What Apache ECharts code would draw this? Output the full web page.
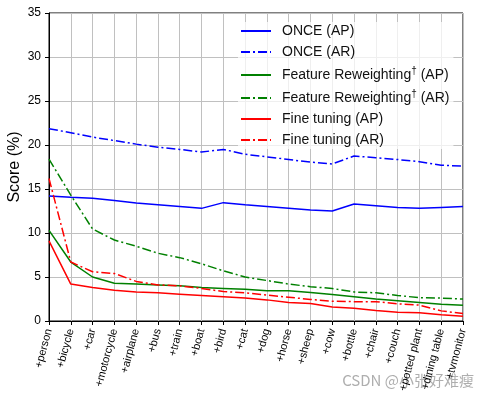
<!DOCTYPE html>
<html>
<head>
<meta charset="utf-8">
<script src="https://cdn.jsdelivr.net/npm/echarts@6/dist/echarts.min.js"></script>
<style>
  html, body { margin: 0; padding: 0; background: #fff; }
  #chart { width: 480px; height: 398px; }
</style>
</head>
<body>
<div id="chart"></div>
<script>
const categories = ['+person', '+bicycle', '+car', '+motorcycle', '+airplane', '+bus', '+train', '+boat', '+bird', '+cat',
  '+dog', '+horse', '+sheep', '+cow', '+bottle', '+chair', '+couch', '+potted plant', '+dining table', '+tvmonitor']

const onceAP = [14.2, 14.05, 13.95, 13.7, 13.4, 13.2, 13.0, 12.8, 13.45, 13.2, 13.0, 12.8, 12.6, 12.5, 13.3, 13.1, 12.9, 12.8, 12.9, 13.0]
const onceAR = [21.85, 21.4, 20.9, 20.5, 20.1, 19.75, 19.5, 19.2, 19.5, 18.95, 18.65, 18.35, 18.05, 17.85, 18.75, 18.55, 18.35, 18.1, 17.7, 17.6]
const featAP = [10.3, 6.7, 5.0, 4.3, 4.2, 4.1, 4.0, 3.8, 3.7, 3.6, 3.45, 3.45, 3.25, 3.0, 2.75, 2.5, 2.3, 2.1, 1.9, 1.8]
const featAR = [18.4, 14.3, 10.45, 9.2, 8.5, 7.7, 7.2, 6.5, 5.7, 5.0, 4.6, 4.2, 3.9, 3.7, 3.3, 3.2, 2.9, 2.65, 2.6, 2.5]
const fineAP = [9.1, 4.2, 3.8, 3.5, 3.3, 3.2, 3.05, 2.9, 2.75, 2.6, 2.4, 2.1, 2.0, 1.6, 1.45, 1.2, 1.0, 0.95, 0.7, 0.55]
const fineAR = [16.2, 6.7, 5.6, 5.4, 4.5, 4.1, 4.0, 3.7, 3.35, 3.2, 2.95, 2.7, 2.45, 2.25, 2.2, 2.2, 1.95, 1.8, 1.15, 0.85]

const fontFamily = '"Liberation Sans", Arial, sans-serif'
const dashDot = [9, 3, 2, 3]

function makeSeries(name, data, color, dashed) {
  return {
    name,
    type: 'line',
    data,
    symbol: 'none',
    showSymbol: false,
    animation: false,
    lineStyle: { color, width: 1.5, type: dashed ? dashDot : 'solid' },
    itemStyle: { color }
  }
}

const myChart = echarts.init(document.getElementById('chart'))
const option = {
  animation: false,
  textStyle: { fontFamily },
  grid: {
    left: 49, right: 17, top: 13, bottom: 77,
    outerBoundsMode: 'none',
    containLabel: false,
    show: true, borderColor: '#000', borderWidth: 1, backgroundColor: 'transparent'
  },
  legend: {
    orient: 'vertical',
    left: 238,
    top: 22,
    itemWidth: 30,
    itemHeight: 14,
    itemGap: 7,
    backgroundColor: 'rgba(255,255,255,0.75)',
    padding: [2, 4, 2, 2],
    itemStyle: { opacity: 0 },
    textStyle: {
      fontSize: 14, color: '#111', fontFamily, padding: [0, 0, 0, 6],
      rich: {
        sup: { fontSize: 10, verticalAlign: 'top', padding: [0, 0, 8, 0], color: '#111', fontFamily }
      }
    },
    formatter: function(name) {
      if (name.indexOf('Feature') === 0) {
        return name.replace('Reweighting', 'Reweighting{sup|†}')
      }
      return name
    }
  },
  xAxis: {
    type: 'category',
    data: categories,
    boundaryGap: false,
    axisLine: { lineStyle: { color: '#000', width: 1 } },
    axisTick: { show: true, alignWithLabel: true, length: 4, lineStyle: { color: '#000' } },
    axisLabel: { rotate: 75, fontSize: 11, color: '#000', margin: 8, interval: 0, fontFamily },
    splitLine: { show: true, lineStyle: { color: '#c0c0c0', width: 1 } }
  },
  yAxis: {
    type: 'value',
    min: 0, max: 35, interval: 5,
    name: 'Score (%)',
    nameLocation: 'middle',
    nameGap: 26,
    nameMoveOverlap: false,
    nameTextStyle: { fontSize: 16, color: '#000', fontFamily },
    axisLine: { show: true, lineStyle: { color: '#000', width: 1 } },
    axisTick: { show: true, length: 4, lineStyle: { color: '#000' } },
    axisLabel: { fontSize: 12, color: '#000', margin: 8, fontFamily },
    splitLine: { show: true, lineStyle: { color: '#c0c0c0', width: 1 } }
  },
  series: [
    makeSeries('ONCE (AP)', onceAP, '#0000ff', false),
    makeSeries('ONCE (AR)', onceAR, '#0000ff', true),
    makeSeries('Feature Reweighting (AP)', featAP, '#008000', false),
    makeSeries('Feature Reweighting (AR)', featAR, '#008000', true),
    makeSeries('Fine tuning (AP)', fineAP, '#ff0000', false),
    makeSeries('Fine tuning (AR)', fineAR, '#ff0000', true)
  ],
  graphic: [{
    type: 'text',
    right: 6,
    top: 373,
    style: {
      text: 'CSDN @小张好难瘦',
      fontSize: 15,
      fill: 'rgba(140,140,140,0.7)',
      fontFamily: '"Noto Sans CJK SC", "Liberation Sans", sans-serif'
    }
  }]
}
option && myChart.setOption(option)
</script>
</body>
</html>
